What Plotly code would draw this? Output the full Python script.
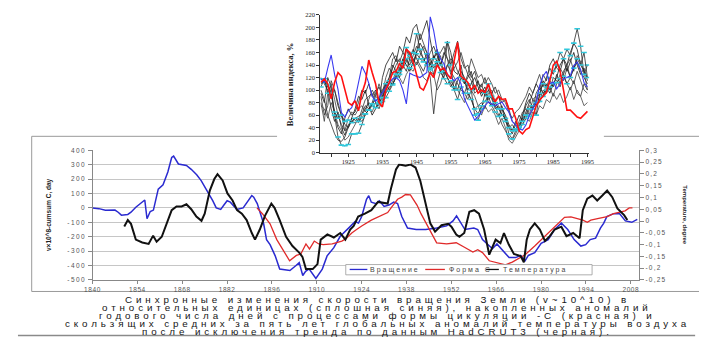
import plotly.graph_objects as go

# The page body adds an 8px margin, so the figure is laid out in page pixels minus that offset.
OFF = 8
W, H = 707 - OFF, 340 - OFF
def px(x): return (x - OFF) / W
def py(y): return 1 - (y - OFF) / H

# ---------------- main chart data ----------------
rot_years = [1840, 1842, 1844, 1846, 1847, 1848, 1849, 1851, 1852, 1853.5, 1855.5, 1856.3, 1857, 1858, 1859,
             1860.5, 1862, 1863.5, 1864.7, 1865.3, 1866.8, 1869.3, 1870.8, 1872.5, 1873.9, 1875, 1876, 1877.5,
             1878.6, 1880, 1881, 1882, 1883, 1885, 1887, 1889.7, 1890.3, 1891.4, 1893.4, 1894.3, 1895.4, 1897,
             1898.4, 1900, 1901.6, 1903.5, 1904.5, 1905.6, 1906.5, 1907.6, 1908.7, 1909.7, 1911.7, 1913.2, 1915.3,
             1917.3, 1919.9, 1921.9, 1923, 1924, 1925.5, 1926.2, 1927, 1928.5, 1929.5, 1931, 1932.5, 1934, 1935.2,
             1936.5, 1938.3, 1941, 1944, 1947.4, 1950.5, 1952.5, 1953.6, 1954.5, 1956.2, 1959, 1960.2, 1961.7,
             1964.8, 1966.2, 1967.9, 1970, 1972, 1973.6, 1975, 1976, 1978, 1980, 1982.2, 1984.2, 1986.3, 1988.3,
             1990.3, 1992.4, 1993.9, 1995.3, 1997, 1998.5, 1999.5, 2000.5, 2002.6, 2004.5, 2006.3, 2008.3, 2010]
rot_vals = [0, -5, -16, -12, -15, -30, -50, -45, -30, 5, 40, 55, -75, -25, -15,
            130, 160, 250, 350, 360, 305, 295, 268, 230, 190, 150, 110, 50,
            0, -10, 20, 50, 40, -10, 0, 86, 75, 30, -110, -220, -255, -333,
            -424, -430, -435, -400, -380, -469, -440, -424, -460, -490, -425, -333, -276,
            -197, -140, -95, -105, -60, 60, 85, 40, 30, 50, 10, 20, 40, 30,
            -60, -140, -150, -150, -140, -125, -90, -55, -90, -150, -140, -150, -220,
            -283, -250, -290, -345, -345, -330, -367, -330, -310, -245, -220, -150, -105, -150,
            -220, -265, -255, -220, -210, -140, -107, -60, -40, -40, -90, -100, -80]

formc_years = [1891.3, 1893, 1895.4, 1897.5, 1901.5, 1903.6, 1905, 1906.6, 1907.7, 1909.2, 1910.6, 1912, 1914.8,
               1917.8, 1919, 1920.9, 1922.4, 1924, 1927, 1930, 1932.1, 1933.4, 1935.2, 1936.5, 1937.7, 1939.2,
               1941.3, 1942.5, 1944.4, 1945.5, 1947.4, 1950.5, 1953.5, 1956.2, 1958.7, 1960.2, 1961.7, 1963.8,
               1965.8, 1968.9, 1971, 1973, 1975, 1978, 1981.2, 1984.2, 1987.3, 1989.3, 1991.4, 1993, 1994.4,
               1995.5, 1997.6, 2000.6, 2002.6, 2004.7, 2006.2, 2007.5, 2008.5]
formc_vals = [0, -40, -110, -220, -367, -330, -320, -250, -285, -230, -250, -255, -250,
              -230, -215, -174, -150, -125, -85, -55, -32, 7, 60, 75, 93, 90,
              18, -40, -120, -170, -242, -250, -242, -275, -306, -290, -310, -367,
              -376, -395, -376, -353, -325, -265, -195, -130, -65, -62, -75, -85, -100,
              -85, -75, -60, -40, -30, -20, 0, 0]

temp_years = [1849.9, 1851, 1852, 1853.5, 1855.5, 1857.5, 1858.9, 1860, 1861.6, 1863.7,
              1864.7, 1866.2, 1867.8, 1869.3, 1870.8, 1872.4, 1874, 1875, 1876.6, 1878,
              1879, 1880.6, 1882.1, 1883.7, 1885.1, 1886.6, 1888.1, 1889.7, 1890.7, 1892.2,
              1893.8, 1895.8, 1896.8, 1898.4, 1900.4, 1902.4, 1904.5, 1905.5, 1906.6, 1908.7,
              1910.2, 1911.2, 1913.3, 1915.3, 1917.3, 1918.9, 1920.4, 1921.5, 1922.9, 1925,
              1927, 1929.1, 1930.5, 1932.1, 1933.1, 1934.7, 1935.7, 1937.7, 1939.2, 1940.8,
              1942.3, 1943.8, 1945.4, 1946.9, 1948.9, 1951, 1952, 1953.5, 1954.5, 1956,
              1957.6, 1959.1, 1960.6, 1962.2, 1963.8, 1965.8, 1967.3, 1968.4, 1969.9, 1971.5,
              1973.6, 1974.6, 1975.5, 1976.5, 1978, 1979.6, 1981.2, 1982.7, 1984.2, 1986.3,
              1987.9, 1990, 1992, 1993, 1994.4, 1996, 1997.5, 1999.1, 2000.6, 2002.2,
              2003.8, 2005.9, 2006.9]
temp_vals = [-0.023, 0.004, -0.012, -0.079, -0.091, -0.097, -0.062, -0.088, -0.067, 0.012,
             0.046, 0.062, 0.062, 0.071, 0.050, 0.019, 0.001, 0.031, 0.129, 0.178,
             0.199, 0.172, 0.117, 0.087, 0.046, 0.031, 0.004, -0.051, -0.079, -0.036,
             0.022, 0.074, 0.056, 0.004, -0.067, -0.106, -0.134, -0.152, -0.204, -0.204,
             -0.183, -0.079, -0.057, -0.070, -0.051, -0.079, -0.036, -0.021, 0.019, 0.031,
             0.046, 0.081, 0.077, 0.074, 0.136, 0.219, 0.240, 0.235, 0.240, 0.227,
             0.170, 0.087, -0.010, -0.045, -0.018, -0.012, -0.024, -0.057, -0.067, -0.051,
             0.039, 0.046, 0.031, -0.036, -0.143, -0.079, -0.094, -0.051, -0.100, -0.140,
             -0.149, -0.175, -0.079, -0.036, -0.010, -0.036, -0.085, -0.064, -0.036, -0.024,
             -0.064, -0.051, -0.073, 0.046, 0.095, 0.108, 0.087, 0.108, 0.129, 0.101,
             0.053, 0.025, 0.004]

series_names = ["Вращение", "Форма С", "Температура"]

x_tick_years = [1840, 1854, 1868, 1882, 1896, 1910, 1924, 1938, 1952, 1966, 1980, 1994, 2008]
left_ticks = [-500, -400, -300, -200, -100, 0, 100, 200, 300, 400]
left_ticktext = ["-500", "-400", "-300", "-200", "-100", "0", "100", "200", "300", "400"]
right_ticks = [-0.25, -0.2, -0.15, -0.1, -0.05, 0, 0.05, 0.1, 0.15, 0.2, 0.25, 0.3]
right_ticktext = ["-0,25", "-0,2", "-0,15", "-0,1", "-0,05", "0", "0,05", "0,1", "0,15", "0,2", "0,25", "0,3"]

# ---------------- inset chart data (index, %) ----------------
inset_years = list(range(1917, 1996))
inset_red = [112, 118, 110, 86, 112, 128, 122, 99, 80, 76,
             83, 67, 95, 112, 148, 128, 110, 80, 73, 100,
             112, 128, 130, 142, 135, 165, 160, 145, 125, 104,
             100, 112, 128, 120, 140, 132, 135, 125, 118, 150,
             176, 122, 118, 112, 100, 108, 95, 100, 96, 110,
             92, 81, 90, 85, 86, 70, 70, 55, 35, 30,
             37, 40, 57, 75, 84, 90, 96, 115, 140, 146,
             130, 100, 68, 68, 62, 57, 55, 60, 66]
inset_blue = [118, 112, 135, 156, 125, 101, 64, 57, 67, 72,
              86, 110, 138, 127, 111, 90, 82, 88, 96, 105,
              112, 118, 120, 115, 100, 78, 127, 124, 122, 120,
              124, 128, 217, 195, 163, 150, 142, 125, 120, 115,
              120, 110, 86, 75, 65, 52, 58, 65, 75, 81,
              78, 75, 78, 81, 72, 65, 50, 44, 38, 36,
              44, 60, 70, 81, 107, 122, 130, 110, 113, 102,
              110, 118, 120, 123, 139, 145, 133, 112, 105]
inset_black = [
    [95, 80, 120, 105, 60, 40, 30, 55, 70, 60,
     65, 80, 100, 95, 110, 90, 100, 80, 120, 140,
     150, 160, 145, 170, 160, 185, 175, 198, 205, 180,
     195, 211, 180, 150, 165, 140, 155, 178, 160, 130,
     125, 140, 110, 120, 130, 100, 115, 95, 105, 85,
     90, 70, 75, 60, 55, 40, 30, 45, 60, 50,
     65, 80, 95, 110, 100, 125, 115, 140, 150, 135,
     130, 150, 140, 160, 175, 165, 140, 130, 120],
    [100, 85, 60, 45, 30, 20, 18, 25, 40, 55,
     52, 48, 60, 70, 80, 75, 90, 85, 100, 110,
     120, 135, 150, 145, 160, 150, 140, 155, 170, 160,
     150, 140, 120, 62, 110, 130, 120, 140, 150, 145,
     130, 120, 110, 125, 115, 95, 100, 110, 90, 100,
     85, 75, 60, 45, 35, 25, 20, 30, 45, 55,
     60, 75, 70, 85, 95, 90, 110, 100, 120, 115,
     105, 125, 110, 100, 115, 95, 90, 110, 100],
    [80, 50, 95, 110, 85, 60, 45, 35, 55, 65,
     60, 70, 75, 65, 85, 100, 90, 110, 95, 120,
     135, 125, 140, 150, 135, 145, 160, 150, 140, 155,
     170, 160, 150, 135, 145, 155, 125, 140, 130, 120,
     110, 100, 95, 85, 100, 90, 75, 80, 70, 95,
     100, 80, 70, 75, 55, 40, 45, 35, 50, 65,
     70, 60, 85, 90, 80, 100, 95, 105, 90, 110,
     125, 115, 135, 120, 110, 130, 115, 100, 95],
    [120, 110, 100, 70, 50, 65, 40, 28, 45, 50,
     55, 58, 62, 75, 70, 80, 95, 105, 90, 100,
     110, 140, 130, 120, 140, 130, 150, 165, 150, 140,
     130, 145, 160, 170, 155, 140, 160, 150, 140, 160,
     178, 150, 135, 140, 120, 130, 110, 105, 120, 100,
     95, 105, 90, 80, 85, 70, 50, 45, 40, 55,
     75, 85, 70, 95, 105, 95, 100, 115, 105, 125,
     110, 130, 140, 120, 135, 145, 130, 120, 110],
    [75, 70, 55, 80, 65, 45, 35, 20, 25, 35,
     45, 55, 50, 60, 70, 65, 80, 75, 95, 110,
     100, 115, 130, 120, 110, 125, 135, 130, 145, 135,
     120, 115, 130, 125, 100, 110, 130, 120, 105, 115,
     100, 90, 80, 95, 85, 70, 75, 60, 75, 65,
     70, 60, 45, 55, 40, 20, 15, 25, 35, 45,
     55, 50, 65, 60, 75, 70, 85, 80, 95, 85,
     95, 80, 90, 105, 85, 100, 90, 75, 80],
    [110, 115, 105, 95, 100, 75, 60, 45, 40, 55,
     70, 90, 85, 100, 75, 60, 70, 85, 80, 95,
     105, 110, 120, 135, 150, 140, 130, 145, 160, 175,
     165, 150, 140, 155, 145, 130, 135, 120, 110, 100,
     115, 130, 120, 100, 110, 120, 105, 90, 100, 80,
     75, 85, 90, 70, 60, 45, 35, 50, 40, 60,
     80, 95, 85, 75, 90, 115, 105, 95, 110, 120,
     140, 150, 130, 145, 160, 140, 125, 135, 115],
    [90, 60, 75, 115, 100, 80, 60, 35, 40, 50,
     48, 52, 70, 85, 90, 95, 80, 70, 85, 105,
     120, 150, 155, 130, 145, 165, 150, 140, 160, 190,
     175, 160, 145, 125, 150, 160, 170, 150, 125, 135,
     145, 160, 140, 125, 150, 135, 120, 125, 110, 120,
     110, 95, 100, 85, 80, 65, 55, 65, 70, 80,
     90, 105, 95, 110, 125, 105, 120, 135, 125, 140,
     135, 125, 140, 150, 130, 155, 145, 130, 100],
]
inset_cyan = [
    [118, 112, 108, 96, 60, 25, 12, 11, 13, 30,
     30, 31, 45, 62, 68, 75, 72, 78, 82, 88,
     98, 110, 120, 125, 145, 168, 155, 160, 190, 165,
     150, 140, 132, 150, 160, 140, 130, 176, 140, 100,
     85, 105, 95, 110, 100, 60, 52, 70, 95, 110,
     90, 80, 70, 60, 55, 30, 22, 35, 40, 45,
     55, 70, 75, 60, 95, 110, 105, 120, 130, 140,
     160, 150, 165, 155, 175, 198, 170, 125, 140],
    [105, 118, 95, 95, 65, 55, 60, 50, 52, 48,
     55, 50, 56, 62, 68, 78, 85, 80, 88, 110,
     115, 108, 125, 130, 140, 150, 135, 140, 158, 150,
     145, 158, 135, 140, 145, 128, 118, 110, 115, 105,
     100, 120, 115, 95, 85, 70, 62, 75, 82, 90,
     75, 65, 58, 70, 50, 40, 35, 38, 42, 50,
     60, 58, 70, 80, 82, 90, 100, 105, 110, 112,
     118, 122, 110, 120, 135, 150, 140, 160, 120],
]
inset_xticks = list(range(1920, 1996, 5))
inset_xticktext = [str(v) if v % 10 == 5 else "" for v in inset_xticks]
inset_yticks = list(range(0, 221, 20))

caption_lines = [
    "Синхронные изменения скорости вращения Земли (v~10^10) в",
    "относительных единицах (сплошная синяя), накопленных аномалий",
    "годового числа дней с процессами формы цикуляции -С (красная) и",
    "скользящих средних за пять лет глобальных аномалий температуры воздуха",
    "после исключения тренда по данным HadCRUT3 (черная).",
]

assert len(rot_years) == len(rot_vals)
assert len(formc_years) == len(formc_vals)
assert len(temp_years) == len(temp_vals)
for s in [inset_red, inset_blue] + inset_black + inset_cyan:
    assert len(s) == len(inset_years), len(s)

def sp(text, ls):
    return '<span style="letter-spacing:%spx">%s</span>' % (ls, text)

BLUE, RED, BLACK = "#2a2ad0", "#e02a2a", "#111111"

fig = go.Figure()
# main chart
fig.add_trace(go.Scatter(x=rot_years, y=rot_vals, mode="lines", name=series_names[0],
                         line=dict(color=BLUE, width=1.5), xaxis="x", yaxis="y"))
fig.add_trace(go.Scatter(x=formc_years, y=formc_vals, mode="lines", name=series_names[1],
                         line=dict(color=RED, width=1.3), xaxis="x", yaxis="y"))
fig.add_trace(go.Scatter(x=temp_years, y=temp_vals, mode="lines", name=series_names[2],
                         line=dict(color=BLACK, width=2), xaxis="x", yaxis="y2"))
# white cover for the pasted inset
fig.add_trace(go.Scatter(x=[0.5], y=[0.5], mode="markers", marker=dict(opacity=0),
                         hoverinfo="skip", xaxis="x3", yaxis="y3"))
# inset
greys = ["#1a1a1a", "#2e2e2e", "#3c3c3c", "#222222", "#444444", "#111111", "#333333"]
for s, c in zip(inset_black, greys):
    fig.add_trace(go.Scatter(x=inset_years, y=s, mode="lines", line=dict(color=c, width=0.8),
                             xaxis="x4", yaxis="y4"))
for s in inset_cyan:
    fig.add_trace(go.Scatter(x=inset_years, y=s, mode="lines+markers", line=dict(color="#2a2a2a", width=0.8),
                             marker=dict(symbol="line-ew-open", size=4, color="#30c8dc",
                                         line=dict(color="#30c8dc", width=1.6)),
                             xaxis="x4", yaxis="y4"))
fig.add_trace(go.Scatter(x=inset_years, y=inset_blue, mode="lines", line=dict(color="#3a3af0", width=1.1),
                         xaxis="x4", yaxis="y4"))
fig.add_trace(go.Scatter(x=inset_years, y=inset_red, mode="lines", line=dict(color="#ff1010", width=1.6),
                         xaxis="x4", yaxis="y4"))

tick_font = dict(family="Liberation Sans, Arial", size=6.5, color="#555555")
serif_font = dict(family="Liberation Serif, Times New Roman", size=6.5, color="#222222")

fig.update_layout(
    width=W, height=H, autosize=False,
    margin=dict(l=0, r=0, t=0, b=0),
    paper_bgcolor="white", plot_bgcolor="white",
    showlegend=False,
    xaxis=dict(domain=[px(86), px(643)], range=[1840, 2010.6], anchor="y",
               tickvals=x_tick_years, ticktext=[sp(str(v), 0.6) for v in x_tick_years],
               ticks="outside", ticklen=3, tickcolor="#888888",
               showline=True, linecolor="#888888", linewidth=1,
               showgrid=False, zeroline=False, tickfont=tick_font),
    yaxis=dict(domain=[py(281.7), py(149.3)], range=[-500, 400], anchor="x",
               tickvals=left_ticks, ticktext=[sp(t, 1.5) for t in left_ticktext],
               ticks="outside", ticklen=4, tickcolor="#888888",
               showline=True, linecolor="#888888", linewidth=1,
               showgrid=True, gridcolor="#c6c6c6", gridwidth=1, zeroline=False,
               tickfont=tick_font),
    yaxis2=dict(overlaying="y", side="right", anchor="x", range=[-0.25, 0.3],
                tickvals=right_ticks, ticktext=[sp(t, 1.2) for t in right_ticktext],
                ticks="outside", ticklen=4, tickcolor="#888888",
                showline=True, linecolor="#888888", linewidth=1,
                showgrid=False, zeroline=False, tickfont=tick_font),
    xaxis3=dict(domain=[px(274), px(607)], range=[0, 1], visible=False, anchor="y3"),
    yaxis3=dict(domain=[py(163), 1], range=[0, 1], visible=False, anchor="x3"),
    xaxis4=dict(domain=[px(318), px(592)], range=[1916.8, 1995.5], anchor="y4",
                tickvals=inset_xticks, ticktext=inset_xticktext,
                ticks="outside", ticklen=3, tickcolor="#333333",
                showline=True, linecolor="#333333", linewidth=1,
                showgrid=False, zeroline=False, tickfont=serif_font),
    yaxis4=dict(domain=[py(151.7), py(11)], range=[0, 220], anchor="x4",
                tickvals=inset_yticks, ticks="outside", ticklen=3, tickcolor="#333333",
                showline=True, linecolor="#333333", linewidth=1,
                showgrid=False, zeroline=False, tickfont=serif_font),
)

shapes = [
    # outer frame of the lower chart
    dict(type="rect", xref="paper", yref="paper", x0=px(24), x1=px(709), y0=py(293.5), y1=py(135),
         line=dict(color="#9a9a9a", width=1), layer="below"),
    # rule under the caption
    dict(type="line", xref="paper", yref="paper", x0=px(10), x1=px(700), y0=py(338.5), y1=py(338.5),
         line=dict(color="#8a8a8a", width=1.5), layer="above"),
    # legend box
    dict(type="rect", xref="paper", yref="paper", x0=px(344), x1=px(595), y0=py(276.5), y1=py(266),
         line=dict(color="#9a9a9a", width=0.8), fillcolor="white", layer="above"),
    dict(type="line", xref="paper", yref="paper", x0=px(348), x1=px(366), y0=py(271), y1=py(271),
         line=dict(color=BLUE, width=1.3), layer="above"),
    dict(type="line", xref="paper", yref="paper", x0=px(425), x1=px(445), y0=py(271), y1=py(271),
         line=dict(color=RED, width=1.3), layer="above"),
    dict(type="line", xref="paper", yref="paper", x0=px(487), x1=px(500), y0=py(271), y1=py(271),
         line=dict(color=BLACK, width=1.3), layer="above"),
]

annotations = []
cap_y = [301.7, 310.0, 318.2, 326.2, 334.0]
for line, yy in zip(caption_lines, cap_y):
    annotations.append(dict(xref="paper", yref="paper", x=px(376), y=py(yy), xanchor="center", yanchor="middle",
                            text=sp(line, 3.9), showarrow=False, borderpad=0,
                            font=dict(family="Liberation Sans, Arial", size=9.8, color="#151515")))
# legend texts
for name, xx in zip(series_names, [368, 448, 503]):
    annotations.append(dict(xref="paper", yref="paper", x=px(xx), y=py(271.3), xanchor="left", yanchor="middle",
                            text=sp(name, 2.0), showarrow=False, borderpad=0,
                            font=dict(family="Liberation Sans, Arial", size=7, color="#444444")))
# axis titles
annotations.append(dict(xref="paper", yref="paper", x=px(41), y=py(215), xanchor="center", yanchor="middle",
                        text="<b>v×10^8-cumsum C, day</b>", textangle=-90, showarrow=False,
                        font=dict(family="Liberation Sans, Arial", size=6.5, color="#222222")))
annotations.append(dict(xref="paper", yref="paper", x=px(690), y=py(216), xanchor="center", yanchor="middle",
                        text="<b>Temperature, degree</b>", textangle=90, showarrow=False,
                        font=dict(family="Liberation Sans, Arial", size=6, color="#222222")))
annotations.append(dict(xref="paper", yref="paper", x=px(288), y=py(82), xanchor="center", yanchor="middle",
                        text="<b>Величина индекса, %</b>", textangle=-90, showarrow=False,
                        font=dict(family="Liberation Serif, Times New Roman", size=8.5, color="#222222")))

fig.update_layout(shapes=shapes, annotations=annotations)
fig.write_html("out.html")
